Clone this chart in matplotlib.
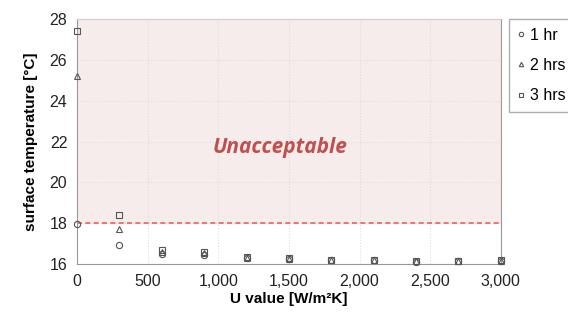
import numpy as np
import matplotlib.pyplot as plt
from matplotlib.ticker import FuncFormatter

plt.rcParams['font.family'] = ['Liberation Sans', 'DejaVu Sans']

u_value = [0, 300, 600, 900, 1200, 1500, 1800, 2100, 2400, 2700, 3000]
temp_1hr = [17.95, 16.92, 16.50, 16.45, 16.28, 16.23, 16.18, 16.18, 16.12, 16.14, 16.16]
temp_2hr = [25.2, 17.72, 16.60, 16.52, 16.31, 16.25, 16.20, 16.20, 16.13, 16.15, 16.17]
temp_3hr = [27.4, 18.40, 16.70, 16.58, 16.33, 16.27, 16.21, 16.22, 16.14, 16.16, 16.19]
limit = 18.0

fig = plt.figure(figsize=(5.68, 3.2), dpi=100)
ax = fig.add_axes([0.1356, 0.175, 0.746, 0.7656])

ax.axhspan(limit, 28, color='#F6ECEC', zorder=0)
ax.axhline(limit, color='#F06060', ls=(0, (3, 2)), lw=1.2, zorder=2)

mk = dict(ls='none', mfc='none', mec='#555555', ms=4.5, mew=0.8, zorder=3, clip_on=False)
ax.plot(u_value, temp_1hr, marker='o', label='1 hr', **mk)
ax.plot(u_value, temp_2hr, marker='^', label='2 hrs', **mk)
ax.plot(u_value, temp_3hr, marker='s', label='3 hrs', **mk)

ax.text(1440, 21.7, 'Unacceptable', fontsize=15, fontweight='bold', style='italic',
        color='#C0504D', ha='center', va='center', family='Open Sans')

ax.set_xlim(0, 3000)
ax.set_ylim(16, 28)
ax.set_xticks(np.arange(0, 3001, 500))
ax.set_yticks(np.arange(16, 29, 2))
ax.xaxis.set_major_formatter(FuncFormatter(lambda v, p: f'{int(v):,}'))
ax.grid(True, ls=':', color='#DDDDDD', lw=0.8)
ax.set_axisbelow(True)
ax.tick_params(length=0, labelsize=11.5, colors='#222222', pad=7)
for s in ax.spines.values():
    s.set_color('#999999')
ax.spines['top'].set_color('#CCCCCC')

ax.set_xlabel('U value [W/m²K]', fontsize=11, fontweight='bold', labelpad=2)
ax.set_ylabel('surface temperature [°C]', fontsize=11, fontweight='bold', labelpad=8)

leg = ax.legend(loc='upper left', bbox_to_anchor=(1.02, 1.0), fontsize=11.5, frameon=True,
                fancybox=False, edgecolor='#999999', handlelength=0.4, handletextpad=0.35,
                labelspacing=0.95, borderpad=0.55, borderaxespad=0, markerscale=0.7)

fig.savefig('out.png', dpi=100)
